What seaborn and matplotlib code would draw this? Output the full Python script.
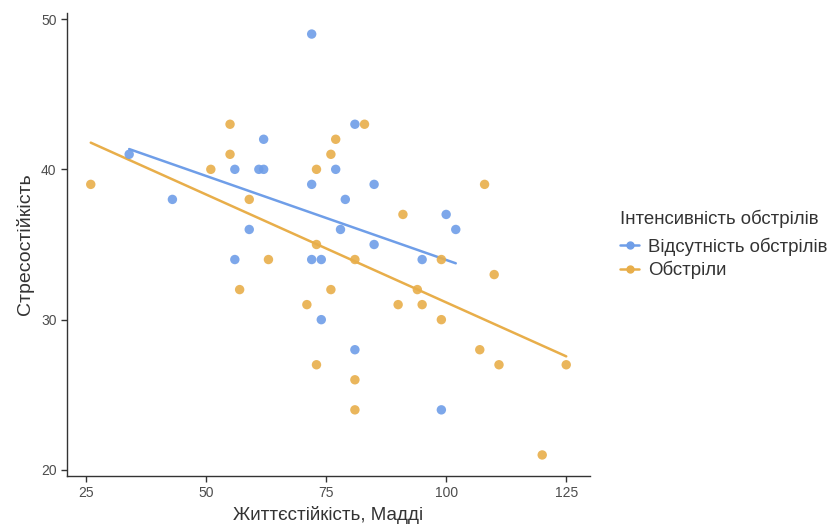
import matplotlib
matplotlib.use("Agg")
import matplotlib.pyplot as plt
from matplotlib.lines import Line2D
import seaborn as sns
import pandas as pd

# Дані: життєстійкість (Мадді) та стресостійкість за групами
group_names = ["Відсутність обстрілів", "Обстріли"]

no_shelling_x = [34, 43, 56, 56, 59, 61, 62, 62, 72, 72, 72, 74, 74, 77, 78, 79,
                 81, 81, 85, 85, 95, 99, 100, 102]
no_shelling_y = [41, 38, 40, 34, 36, 40, 40, 42, 49, 39, 34, 34, 30, 40, 36, 38,
                 43, 28, 39, 35, 34, 24, 37, 36]

shelling_x = [26, 51, 55, 55, 57, 59, 63, 71, 73, 73, 73, 76, 76, 77, 81, 81, 81,
              83, 90, 91, 94, 95, 99, 99, 107, 108, 110, 111, 120, 125]
shelling_y = [39, 40, 43, 41, 32, 38, 34, 31, 40, 35, 27, 41, 32, 42, 34, 26, 24,
              43, 31, 37, 32, 31, 34, 30, 28, 39, 33, 27, 21, 27]

x_ticks = [25, 50, 75, 100, 125]
y_ticks = [20, 30, 40, 50]

colors = {"Відсутність обстрілів": "#6F9EE8", "Обстріли": "#E8AE4A"}

df = pd.DataFrame({
    "x": no_shelling_x + shelling_x,
    "y": no_shelling_y + shelling_y,
    "group": [group_names[0]] * len(no_shelling_x) + [group_names[1]] * len(shelling_x),
})

sns.set_style("white")
plt.rcParams["font.family"] = ["Liberation Sans", "DejaVu Sans"]

fig = plt.figure(figsize=(8.29, 5.31), dpi=100)
ax = fig.add_axes([0.0808, 0.1036, 0.6309, 0.8719])

sns.scatterplot(data=df, x="x", y="y", hue="group", palette=colors,
                s=46, alpha=0.9, linewidth=0, ax=ax, legend=False, zorder=3)

for g in group_names:
    sub = df[df["group"] == g]
    sns.regplot(data=sub, x="x", y="y", scatter=False, ci=None, truncate=True,
                color=colors[g], line_kws={"linewidth": 1.8}, ax=ax)

ax.set_xlim(21.05, 129.95)
ax.set_ylim(19.6, 50.4)
ax.set_xticks(x_ticks)
ax.set_yticks(y_ticks)
ax.tick_params(axis="both", labelsize=10, labelcolor="#4D4D4D", colors="#333333",
               direction="out", length=4, width=1, left=True, bottom=True)
for side in ["top", "right"]:
    ax.spines[side].set_visible(False)
for side in ["left", "bottom"]:
    ax.spines[side].set_color("#333333")
    ax.spines[side].set_linewidth(1)

ax.set_xlabel("Життєстійкість, Мадді", fontsize=13.5, color="#333333", labelpad=4)
ax.set_ylabel("Стресостійкість", fontsize=14, color="#333333", labelpad=5)

handles = [Line2D([0], [0], color=colors[g], marker="o", markersize=5, linewidth=1.8)
           for g in group_names]
leg = ax.legend(handles, group_names, title="Інтенсивність обстрілів",
                loc="center left", bbox_to_anchor=(1.057, 0.5), frameon=False,
                fontsize=13.4, title_fontsize=13.4, handlelength=1.05,
                handletextpad=0.45, labelspacing=0.29, borderpad=0, borderaxespad=0)
leg._legend_box.align = "left"
leg._legend_box.sep = 0.29 * 13.4 + 3
for t in leg.get_texts():
    t.set_color("#333333")
leg.get_title().set_color("#333333")

fig.savefig("out.png", dpi=100)
